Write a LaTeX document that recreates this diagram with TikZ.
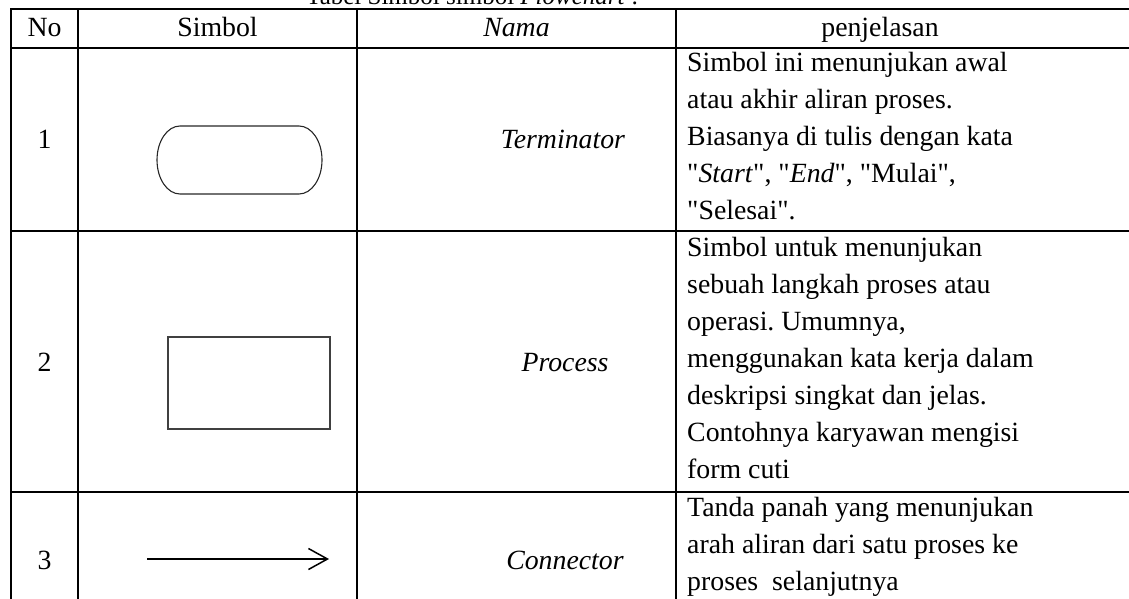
\documentclass[tikz,border=0pt]{standalone}
\usepackage{fontspec}
\setmainfont{Liberation Serif}[Ligatures=TeXOff]
\usetikzlibrary{arrows.meta}
\frenchspacing
\begin{document}
\begin{tikzpicture}[x=1pt,y=-1pt,
  grid/.style={line width=1.6pt},
  txt/.style={inner sep=0pt, font=\fontsize{27.8}{37}\selectfont},
  cell/.style={txt, anchor=base west},
  ctr/.style={txt, anchor=base},
  shapeline/.style={draw=black!80, line width=1.2pt}
]
\useasboundingbox (0,0) rectangle (1129,599);
\clip (0,0) rectangle (1129,599);
% caption (cut off at the top)
\node[inner sep=0pt, anchor=base west, font=\fontsize{25}{30}\selectfont] (cap) at (306,4.5) {Tabel Simbol simbol \textit{Flowchart} :};
% table rules
\draw[grid] (11,9) -- (1140,9);
\draw[grid] (11,48) -- (1140,48);
\draw[grid] (11,231) -- (1140,231);
\draw[grid] (11,492) -- (1140,492);
\draw[line width=2.6pt] (676,492) -- (1140,492);
\foreach \x in {11,78,357,676} \draw[grid] (\x,8.2) -- (\x,610);
% header
\node[ctr] (hno) at (44.5,37) {No};
\node[ctr] (hsim) at (217.5,37) {Simbol};
\node[ctr] (hnama) at (516.5,37) {\textit{Nama}};
\node[ctr] (hpen) at (880,37) {penjelasan};
% row 1
\node[ctr] (n1) at (44.5,149) {1};
\draw[shapeline, draw=black!85, line width=1.1pt] (180,126) -- (299,126)
  arc[start angle=-90, end angle=90, x radius=23, y radius=34]
  -- (180,194)
  arc[start angle=90, end angle=270, x radius=23, y radius=34] -- cycle;
\node[ctr] (nm1) at (563,149) {\textit{Terminator}};
\node[cell] (d1) at (687,72) {\parbox[t]{440pt}{\raggedright
Simbol ini menunjukan awal\\
atau akhir aliran proses.\\
Biasanya di tulis dengan kata\\
"\textit{Start}", "\textit{End}", "Mulai",\\
"Selesai".}};
% row 2
\node[ctr] (n2) at (44.5,371) {2};
\node[shapeline, draw=black!75, minimum width=162pt, minimum height=92pt, inner sep=0pt] (proc) at (249,383) {};
\node[ctr] (nm2) at (565,371) {\textit{Process}};
\node[cell] (d2) at (687,256) {\parbox[t]{440pt}{\raggedright
Simbol untuk menunjukan\\
sebuah langkah proses atau\\
operasi. Umumnya,\\
menggunakan kata kerja dalam\\
deskripsi singkat dan jelas.\\
Contohnya karyawan mengisi\\
form cuti}};
% row 3
\node[ctr] (n3) at (44.5,569) {3};
\coordinate (a0) at (147,559);
\coordinate (a1) at (329,559);
\draw[line width=1.5pt, -{Straight Barb[length=19pt,width=21pt]}] (a0) -- (a1);
\node[ctr] (nm3) at (565,569) {\textit{Connector}};
\node[cell] (d3) at (687,516) {\parbox[t]{440pt}{\raggedright
Tanda panah yang menunjukan\\
arah aliran dari satu proses ke\\
proses\ \ selanjutnya}};
\end{tikzpicture}
\end{document}
